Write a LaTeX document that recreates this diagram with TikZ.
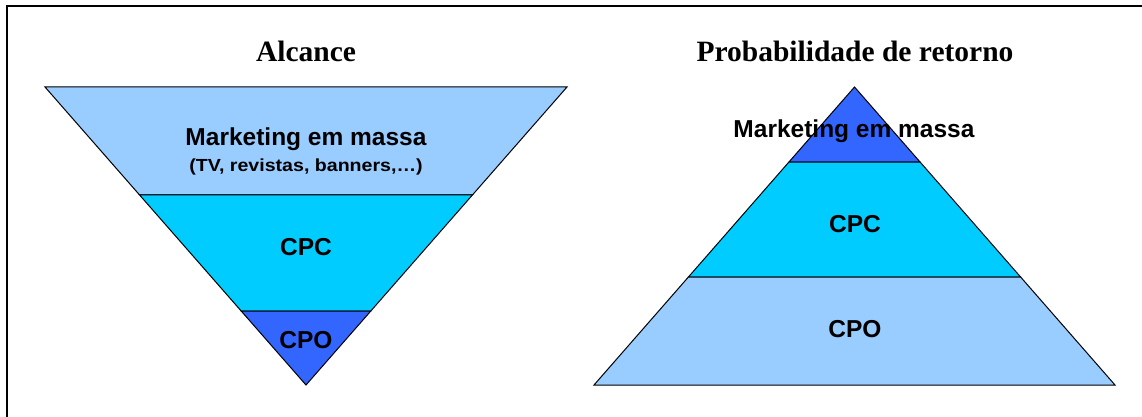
\documentclass[tikz,border=0pt]{standalone}
\usepackage{fontspec}
\setmainfont{Liberation Serif}
\newfontfamily\arialfont{Liberation Sans}
\usetikzlibrary{calc,positioning}
\definecolor{bandLight}{HTML}{99CCFF}
\definecolor{bandCyan}{HTML}{00CCFF}
\definecolor{bandBlue}{HTML}{3366FF}

\begin{document}
\begin{tikzpicture}[
  x=1pt,y=-1pt,
  title/.style={font=\fontsize{29.5}{32}\selectfont\bfseries,anchor=base,inner sep=0pt},
  lbl/.style={font=\arialfont\bfseries\fontsize{24.5}{26}\selectfont,anchor=base,inner sep=0pt},
  sublbl/.style={font=\arialfont\bfseries\fontsize{17.5}{19}\selectfont,anchor=base,inner sep=0pt},
  band/.style={draw=black,line width=1pt,line join=miter}
]
\useasboundingbox (0,0) rectangle (1142,417);
\fill[white] (0,0) rectangle (1142,417);
\draw[line width=2pt] (7,6) rectangle (1170,450);

% funnel (Alcance)
\coordinate (fTL)  at (45,87);
\coordinate (fTR)  at (567,87);
\coordinate (fTip) at (306,385);
\coordinate (fL1) at ($(fTL)!0.362!(fTip)$);
\coordinate (fR1) at ($(fTR)!0.362!(fTip)$);
\coordinate (fL2) at ($(fTL)!0.752!(fTip)$);
\coordinate (fR2) at ($(fTR)!0.752!(fTip)$);
\filldraw[band,fill=bandLight] (fTL) -- (fTR) -- (fR1) -- (fL1) -- cycle;
\filldraw[band,fill=bandCyan]  (fL1) -- (fR1) -- (fR2) -- (fL2) -- cycle;
\filldraw[band,fill=bandBlue]  (fL2) -- (fR2) -- (fTip) -- cycle;

\node[title] (alcance) at (306,62) {Alcance};
\node[lbl]    (fMass) at (306,146) {Marketing em massa};
\node[sublbl] (fMedia) at (306,171) {\scalebox{1.12}[1]{(TV, revistas, banners,\dots)}};
\node[lbl]    (fCpc)  at (306,255) {CPC};
\node[lbl]    (fCpo)  at (306,348) {CPO};

% pyramid (Probabilidade de retorno)
\coordinate (pTop) at (854.5,87);
\coordinate (pBL)  at (594,385);
\coordinate (pBR)  at (1115,385);
\coordinate (pL1) at ($(pTop)!0.2517!(pBL)$);
\coordinate (pR1) at ($(pTop)!0.2517!(pBR)$);
\coordinate (pL2) at ($(pTop)!0.6376!(pBL)$);
\coordinate (pR2) at ($(pTop)!0.6376!(pBR)$);
\filldraw[band,fill=bandBlue]  (pTop) -- (pR1) -- (pL1) -- cycle;
\filldraw[band,fill=bandCyan]  (pL1) -- (pR1) -- (pR2) -- (pL2) -- cycle;
\filldraw[band,fill=bandLight] (pL2) -- (pR2) -- (pBR) -- (pBL) -- cycle;

\node[title] (retorno) at (855,62) {Probabilidade de retorno};
\node[lbl]   (pMass) at (854,138) {Marketing em massa};
\node[lbl]   (pCpc)  at (855,232) {CPC};
\node[lbl]   (pCpo)  at (855,337) {CPO};
\end{tikzpicture}
\end{document}
